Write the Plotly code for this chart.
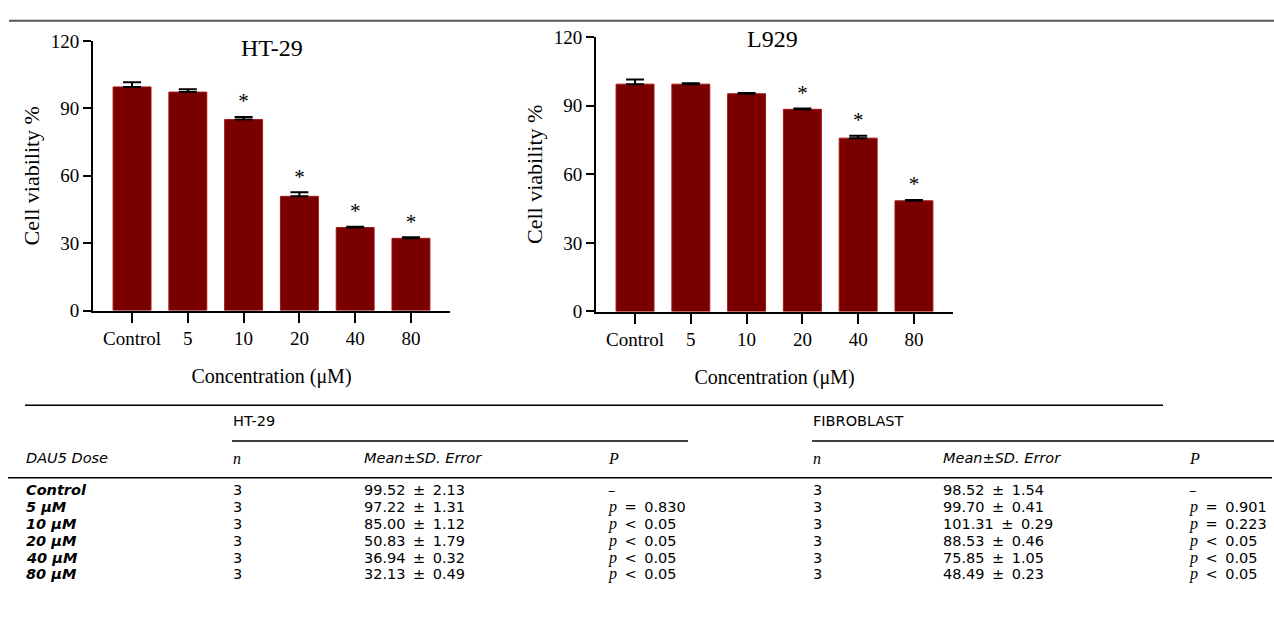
import plotly.graph_objects as go

# ---------------- data ----------------
categories = ["Control", "5", "10", "20", "40", "80"]
dose_labels = ["Control", "5 μM", "10 μM", "20 μM", "40 μM", "80 μM"]
n_values = [3, 3, 3, 3, 3, 3]

ht29_mean = [99.52, 97.22, 85.00, 50.83, 36.94, 32.13]
ht29_sd = [2.13, 1.31, 1.12, 1.79, 0.32, 0.49]
ht29_p = ["–", "p = 0.830", "p < 0.05", "p < 0.05", "p < 0.05", "p < 0.05"]
ht29_sig = ["", "", "*", "*", "*", "*"]

fib_mean = [98.52, 99.70, 101.31, 88.53, 75.85, 48.49]
fib_sd = [1.54, 0.41, 0.29, 0.46, 1.05, 0.23]
fib_p = ["–", "p = 0.901", "p = 0.223", "p < 0.05", "p < 0.05", "p < 0.05"]

# L929 bars as drawn in the chart
l929_bar = [99.4, 99.4, 95.2, 88.4, 75.8, 48.4]
l929_err = [2.0, 0.4, 0.3, 0.4, 1.1, 0.3]
l929_sig = ["", "", "", "*", "*", "*"]

y_ticks = [0, 30, 60, 90, 120]

# ---------------- helpers ----------------
W, H = 1274, 624
def px(x):
    return x / W
def py(y):
    return 1 - y / H

BAR = "#7a0000"
SERIF = "Liberation Serif"
SANS = "DejaVu Sans"

fig = go.Figure()

def add_chart(vals, errs, sig, xa, ya):
    fig.add_trace(go.Bar(
        x=categories, y=vals, xaxis=xa, yaxis=ya,
        marker=dict(color=BAR, line=dict(color="#a31515", width=1)),
        error_y=dict(type="data", array=errs, arrayminus=[0] * len(errs),
                     symmetric=False, color="black", thickness=2, width=9),
        hoverinfo="skip",
    ))
    sx = [c for c, s in zip(categories, sig) if s]
    sy = [v + e + 1.5 for v, e, s in zip(vals, errs, sig) if s]
    st = [s for s in sig if s]
    fig.add_trace(go.Scatter(
        x=sx, y=sy, text=st, mode="text", textposition="top center",
        textfont=dict(family=SERIF, size=21, color="black"),
        xaxis=xa, yaxis=ya, cliponaxis=False, hoverinfo="skip",
    ))

add_chart(ht29_mean, ht29_sd, ht29_sig, "x", "y")
add_chart(l929_bar, l929_err, l929_sig, "x2", "y2")

xcommon = dict(type="category", range=[-0.7, 5.7], showline=True, linecolor="black",
               linewidth=2, ticks="outside", ticklen=10, tickwidth=2, tickcolor="black",
               tickfont=dict(family=SERIF, size=19, color="black"), showgrid=False,
               zeroline=False, fixedrange=True,
               title=dict(text="Concentration (μM)", font=dict(family=SERIF, size=20, color="black"),
                          standoff=21))
ycommon = dict(range=[0, 120], tickvals=y_ticks, showline=True, linecolor="black",
               linewidth=2, ticks="outside", ticklen=8, tickwidth=2, tickcolor="black",
               tickfont=dict(family=SERIF, size=19, color="black"), showgrid=False,
               zeroline=False, fixedrange=True,
               title=dict(text="Cell viability %", font=dict(family=SERIF, size=22, color="black"),
                          standoff=5))

fig.update_layout(
    width=W, height=H, margin=dict(l=0, r=0, t=0, b=0),
    paper_bgcolor="white", plot_bgcolor="white", showlegend=False,
    bargap=0.32,
    xaxis=dict(domain=[px(93), px(450)], anchor="y", **xcommon),
    yaxis=dict(domain=[py(311), py(32)], anchor="x", **ycommon),
    xaxis2=dict(domain=[px(596), px(953)], anchor="y2", **xcommon),
    yaxis2=dict(domain=[py(312), py(28)], anchor="x2", **ycommon),
)

ann = []
# chart titles
ann.append(dict(text="HT-29", x=px(272), y=py(39), xref="paper", yref="paper",
                showarrow=False, font=dict(family=SERIF, size=24, color="black"),
                xanchor="center", yanchor="middle"))
ann.append(dict(text="L929", x=px(772), y=py(30), xref="paper", yref="paper",
                showarrow=False, font=dict(family=SERIF, size=24, color="black"),
                xanchor="center", yanchor="middle"))

shapes = []
def hline(x0, x1, y, color="black", width=1.5):
    shapes.append(dict(type="line", xref="paper", yref="paper", x0=px(x0), x1=px(x1),
                       y0=py(y), y1=py(y), line=dict(color=color, width=width)))

hline(9, 1274, 11, color="#555555", width=2)
hline(25, 1163, 409)
hline(232, 688, 446)
hline(812, 1274, 446)
hline(8, 1272, 484)

TF = dict(family=SANS, size=14.5, color="black")
def txt(s, x, y):
    ann.append(dict(text=s, x=px(x), y=py(y), xref="paper", yref="paper", showarrow=False,
                    font=TF, xanchor="left", yanchor="middle", borderpad=0))

def serif_i(s):
    return "<span style='font-family:Liberation Serif;font-size:16px'><i>" + s + "</i></span>"

col_label, col_n1, col_m1, col_p1, col_n2, col_m2, col_p2 = 25, 232, 363, 607, 812, 942, 1188
txt("HT-29", col_n1, 425)
txt("FIBROBLAST", col_n2, 425)
txt("<i>DAU5 Dose</i>", col_label, 464)
for cn, cm, cp in [(col_n1, col_m1, col_p1), (col_n2, col_m2, col_p2)]:
    txt(serif_i("n"), cn, 464)
    txt("<i>Mean±SD. Error</i>", cm, 464)
    txt(serif_i("P"), cp, 464)

def fmt_p(s):
    if s.startswith("p"):
        rest = s[1:].strip()
        op, val = rest.split(" ", 1)
        op = op.replace("<", "&lt;")
        return serif_i("p") + " \u2009" + op + "\u2009 " + val
    return s

row0, step = 497, 17.4
for i in range(len(dose_labels)):
    y = row0 + i * step
    txt("<b><i>" + dose_labels[i] + "</i></b>", col_label, y)
    txt(str(n_values[i]), col_n1, y)
    txt(f"{ht29_mean[i]:.2f} \u2009±\u2009 {ht29_sd[i]:.2f}", col_m1, y)
    txt(fmt_p(ht29_p[i]), col_p1, y)
    txt(str(n_values[i]), col_n2, y)
    txt(f"{fib_mean[i]:.2f} \u2009±\u2009 {fib_sd[i]:.2f}", col_m2, y)
    txt(fmt_p(fib_p[i]), col_p2, y)

fig.update_layout(annotations=ann, shapes=shapes)

fig.write_html("out.html", config={"displayModeBar": False},
               post_script="document.body.style.margin='0';document.body.style.overflow='hidden';")
